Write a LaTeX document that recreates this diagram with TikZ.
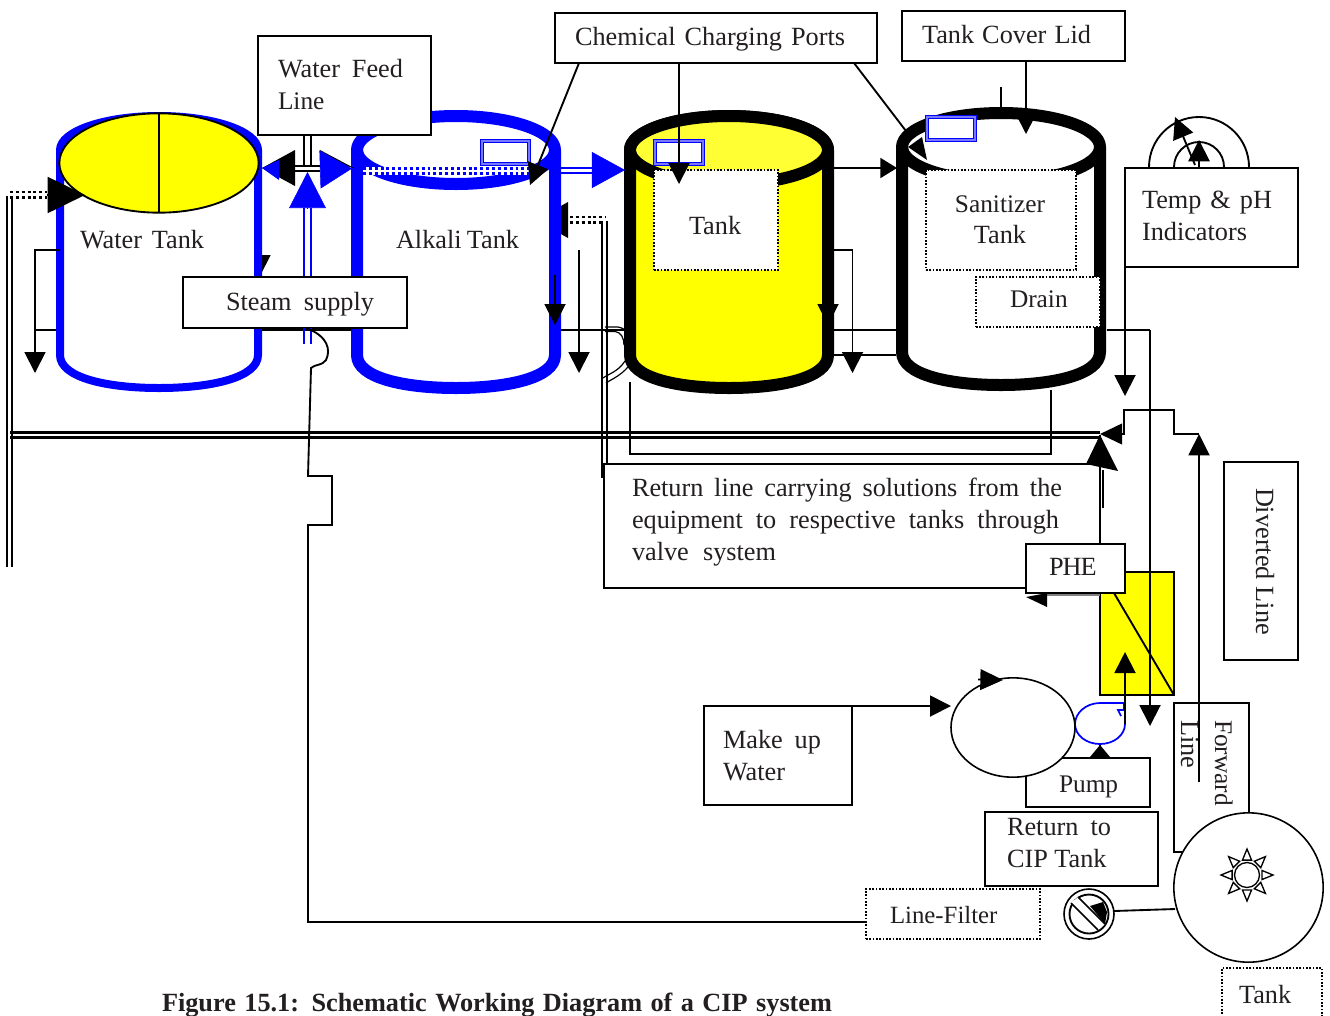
\documentclass[tikz,border=0pt]{standalone}
\usepackage{fontspec}
\setmainfont{Liberation Serif}
\usetikzlibrary{arrows.meta,fit,calc,shapes.geometric}
\definecolor{yel}{RGB}{255,255,0}
\definecolor{paleyel}{RGB}{255,255,51}
\definecolor{ink}{RGB}{35,31,32}
\definecolor{portmid}{RGB}{120,120,255}
\newdimen\pxu \pxu=0.75pt
\newcommand\wtxt[2]{\makebox[#1\pxu][s]{#2}}
\newcommand\bx[4][rbox]{\node[#1,fit={#3 #4}] (#2) {};}
\tikzset{
  x=0.75pt,y=-0.75pt,
  every node/.style={font=\fontsize{19.7}{24}\selectfont,text=ink},
  ln/.style={line width=1.4pt,draw=black},
  rbox/.style={draw=black,line width=1.45pt,fill=white,inner sep=0pt,outer sep=0pt},
  dbox/.style={draw=black,line width=0.95pt,dash pattern=on 1.2pt off 1.3pt,fill=white,inner sep=0pt,outer sep=0pt},
  txt/.style={inner sep=0pt,outer sep=0pt,anchor=base west},
  ctxt/.style={inner sep=0pt,outer sep=0pt,anchor=base},
  rtxt/.style={inner sep=0pt,outer sep=0pt,anchor=base west,rotate=-90},
  small/.style={font=\fontsize{19}{24}\selectfont},
  hd/.style={-{Triangle[length=15.75pt,width=15.75pt]}},
  port/.style={draw=blue,line width=1pt,double=portmid,double distance=1.4pt,fill=white,inner sep=0pt,outer sep=0pt},
  dots/.style={line width=2.2pt,dash pattern=on 2.2pt off 2.2pt},
  wall/.style={line width=9pt,line join=round},
}
\begin{document}
\begin{tikzpicture}
\useasboundingbox (0,0) rectangle (1330,1015);

% ---------- things partly hidden behind the tanks
\coordinate (wtHidS) at (260,240);
\coordinate (wtHidE) at (260,276);
\draw[ln,hd] (wtHidS) -- (wtHidE);
\coordinate (dotEnd) at (536,220);
\fill (568,202) -- (568,238) -- (dotEnd) -- cycle;

% ---------- water tank
\draw[blue,line width=6pt,fill=white,line join=round]
  (60,150) arc[start angle=180,end angle=360,x radius=99,y radius=34]
  -- (258,355) .. controls (258,378) and (210,388) .. (159,388)
  .. controls (108,388) and (60,378) .. (60,355) -- cycle;
\node[draw=black,line width=1.4pt,fill=yel,ellipse,inner sep=0pt,outer sep=0pt,
  minimum width=149.5pt,minimum height=74.5pt] (wtLid) at (159,163) {};
\draw[ln] (wtLid.north) -- (wtLid.south);

% ---------- alkali tank
\draw[blue,wall,fill=white]
  (357,150) arc[start angle=180,end angle=360,x radius=99,y radius=34]
  -- (555,355) .. controls (555,378) and (507,388) .. (456,388)
  .. controls (405,388) and (357,378) .. (357,355) -- cycle;
\draw[blue,wall] (357,150) arc[start angle=180,end angle=0,x radius=99,y radius=34];

% ---------- main yellow tank
\draw[black,wall,fill=yel]
  (630,150) arc[start angle=180,end angle=360,x radius=99,y radius=34]
  -- (828,355) .. controls (828,378) and (780,388) .. (729,388)
  .. controls (678,388) and (630,378) .. (630,355) -- cycle;
\draw[black,wall,fill=paleyel] (729,150) ellipse[x radius=99,y radius=34];

% ---------- sanitizer tank
\draw[black,wall,fill=white]
  (902,147) arc[start angle=180,end angle=360,x radius=99,y radius=34]
  -- (1100,352) .. controls (1100,375) and (1052,385) .. (1001,385)
  .. controls (950,385) and (902,375) .. (902,352) -- cycle;
\draw[black,wall] (902,147) arc[start angle=180,end angle=0,x radius=99,y radius=34];

% ---------- boxes
\bx{wfl}{(258,36)}{(431,135)}
\bx{ccp}{(555,13)}{(877,63)}
\bx{lid}{(902,11)}{(1125,61)}
\bx{temp}{(1125,168)}{(1298,267)}
\bx{dive}{(1224,462)}{(1298,660)}
\bx{fwd}{(1174,703)}{(1249,852)}
\bx{mkup}{(704,706)}{(852,805)}
\bx{cip}{(985,812)}{(1158,886)}
\bx[dbox]{tk3}{(654,170)}{(778,270)}
\bx[dbox]{san}{(926,170)}{(1076,270)}
\bx[dbox]{drn}{(976,277)}{(1100,327)}
\bx[dbox]{lft}{(866,889)}{(1040,939)}
\bx[dbox]{tksm}{(1222,968)}{(1322,1017)}

% ---------- ports
\bx[port]{p1}{(482,141)}{(529,164)}
\bx[port]{p2}{(655,141)}{(703,164)}
\bx[port]{p3}{(927,117)}{(975,140)}

% ---------- blue dotted band in alkali tank
\fill[white] (363,166.5) rectangle (530,175);
\coordinate (bd1a) at (363,168.3); \coordinate (bd1b) at (530,168.3);
\coordinate (bd2a) at (363,173.2); \coordinate (bd2b) at (530,173.2);
\draw[blue,dots] (bd1a) -- (bd1b);
\draw[blue,dots] (bd2a) -- (bd2b);

% ---------- left double line with dotted top
\coordinate (lA) at (7,196); \coordinate (lAb) at (7,567);
\coordinate (lB) at (12,196); \coordinate (lBb) at (12,567);
\draw[ln] (lA) -- (lAb);
\draw[ln] (lB) -- (lBb);
\coordinate (ld1) at (10,192); \coordinate (ld1e) at (47,192);
\coordinate (ld2) at (10,197.5); \coordinate (ld2e) at (47,197.5);
\draw[dots] (ld1) -- (ld1e);
\draw[dots] (ld2) -- (ld2e);
\coordinate (wtIn) at (85,195);
\coordinate (wtInS) at (47,195);
\draw[ln,-{Triangle[length=28pt,width=27pt]}] (wtInS) -- (wtIn);

% ---------- water tank drain
\coordinate (wdA) at (60,250); \coordinate (wdB) at (35,373); \coordinate (wdC) at (56,330);
\draw[ln,hd] (wdA) -| (wdB);
\draw[ln] (wdC) -- (wdC-|wdB);

% ---------- long horizontal line between tanks
\coordinate (h1a) at (262,330); \coordinate (h1b) at (351,330);
\draw[ln] (h1a) -- (h1b);
\coordinate (h2a) at (561,330); \coordinate (h2b) at (624,330);
\draw[ln] (h2a) -- (h2b);

% ---------- steam
\coordinate (s1b) at (304,344); \coordinate (s1t) at (304,208);
\coordinate (s2b) at (311,344); \coordinate (s2t) at (311,208);
\draw[blue,line width=1.1pt] (s1b) -- (s1t);
\draw[blue,line width=1.1pt] (s2b) -- (s2t);
\coordinate (stip) at (307.5,172); \coordinate (sbase) at (307.5,208);
\draw[blue,-{Triangle[length=27pt,width=27.5pt]}] (sbase) -- (stip);

% ---------- water feed
\coordinate (wf1) at (304,166); \coordinate (wf2) at (311,166);
\draw[ln] (wf1|-wfl.south) -- (wf1);
\draw[ln] (wf2|-wfl.south) -- (wf2);
\coordinate (wfL) at (295,168); \coordinate (wfT) at (262,168);
\fill (295,150) -- (295,186) -- (wfT) -- cycle;
\fill[blue] (279,160) -- (279,180) -- (wfT) -- cycle;
\fill (320,150) -- (320,160) -- (354,168) -- cycle;
\coordinate (wfR) at (320,169.5); \coordinate (wfRt) at (352,168.5);
\draw[blue,-{Triangle[length=24pt,width=28.5pt]}] (wfR) -- (wfRt);
\coordinate (fh1a) at (279,166); \coordinate (fh1b) at (320,166);
\coordinate (fh2a) at (279,171); \coordinate (fh2b) at (320,171);
\draw[line width=1.5pt] (fh1a) -- (fh1b);
\draw[line width=1.5pt] (fh2a) -- (fh2b);

% ---------- alkali to tank
\coordinate (a1) at (561,168); \coordinate (a1e) at (592,168);
\coordinate (a2) at (561,173); \coordinate (a2e) at (592,173);
\draw[blue,line width=1.1pt] (a1) -- (a1e);
\draw[blue,line width=1.1pt] (a2) -- (a2e);
\coordinate (aS) at (592,170); \coordinate (aT) at (625,170);
\draw[blue,-{Triangle[length=24.8pt,width=27pt]}] (aS) -- (aT);

% ---------- alkali return lines
\coordinate (rd1) at (570,217); \coordinate (rd1e) at (606,217);
\coordinate (rd2) at (570,222.5); \coordinate (rd2e) at (602,222.5);
\draw[dots] (rd1) -- (rd1e);
\draw[dots] (rd2) -- (rd2e);
\coordinate (v1t) at (602,221); \coordinate (v1b) at (602,478);
\coordinate (v2t) at (607,221); \coordinate (v2b) at (607,464);
\draw[ln] (v1t) -- (v1b);
\draw[ln] (v2t) -- (v2b);
\coordinate (adA) at (579,250); \coordinate (adB) at (579,373);
\draw[ln,hd] (adA) -- (adB);
\coordinate (awA) at (555,275); \coordinate (awB) at (555,325);
\draw[ln,hd] (awA) -- (awB);

% small curved pipe pieces at tank foot
\draw[line width=0.9pt] (605,327) -- (618,327) .. controls (623,328) and (626,330) .. (626,332);
\draw[line width=0.9pt] (605,331.5) -- (615,331.5) .. controls (621,332) and (624,338) .. (624,345);
\draw[line width=0.9pt] (603,378) .. controls (608,374) and (618,372) .. (625,361);
\draw[line width=0.9pt] (606,383) .. controls (612,379) and (620,376) .. (628,367);

% ---------- return loop under tank
\coordinate (lp1) at (630,382); \coordinate (lp2) at (1051,454); \coordinate (lp3) at (1051,390);
\draw[ln] (lp1) |- (lp2) -- (lp3);

% ---------- double main header
\coordinate (ma1) at (10,432.5); \coordinate (ma1e) at (1100,432.5);
\coordinate (ma2) at (10,437.5); \coordinate (ma2e) at (1100,437.5);
\draw[line width=1.7pt] (ma1) -- (ma1e);
\draw[line width=1.7pt] (ma2) -- (ma2e);

% ---------- return box (over lines)
\bx{ret}{(604,464)}{(1100,588)}
\bx{stm}{(183,277)}{(407,328)}

% blue stub below steam box
\coordinate (s3) at (304,328); \coordinate (s3e) at (304,344);
\coordinate (s4) at (311,328); \coordinate (s4e) at (311,344);
\draw[blue,line width=1.1pt] (s3) -- (s3e);
\draw[blue,line width=1.1pt] (s4) -- (s4e);

% ---------- chemical charging connectors
\coordinate (c1) at (530,185);
\draw[ln,-{Triangle[length=16pt,width=16pt]}] (579,63) coordinate (c1s) -- (c1);
\coordinate (c2) at (679,184);
\draw[ln,hd] (ccp.south-|c2) -- (c2);
\coordinate (c3a) at (854,63); \coordinate (c3b) at (906,131);
\draw[ln] (c3a) -- (c3b);
\fill (908,147) -- (922,137) -- (927,160) -- cycle;

% ---------- lid connectors
\coordinate (l1) at (1026,134);
\draw[ln,-{Triangle[length=13pt,width=13pt]}] (lid.south-|l1) -- (l1);
\coordinate (l2a) at (1001,87); \coordinate (l2b) at (1001,108);
\draw[ln] (l2a) -- (l2b);

% ---------- tank to sanitizer
\coordinate (tsA) at (833,168); \coordinate (tsB) at (897,168);
\draw[ln,-{Triangle[length=12.5pt,width=15pt]}] (tsA) -- (tsB);
\coordinate (t1a) at (833,250); \coordinate (t1b) at (852.5,373);
\draw[ln,hd] (t1a) -| (t1b);
\coordinate (t2a) at (833,330); \coordinate (t2b) at (896,330);
\draw[ln] (t2a) -- (t2b);
\coordinate (t3a) at (833,355); \coordinate (t3b) at (896,355);
\draw[ln] (t3a) -- (t3b);
\coordinate (twA) at (828,275); \coordinate (twB) at (828,325);
\draw[ln,hd] (twA) -- (twB);

% ---------- sanitizer drain line
\coordinate (sdA) at (1107,330); \coordinate (sdB) at (1150,726);
\draw[ln] (sdA) -| (sdA-|sdB);

% ---------- indicators
\coordinate (ga) at (1199,167);
\draw[ln] (1149,167) arc[start angle=180,end angle=360,radius=50];
\draw[ln] (1174,167) arc[start angle=180,end angle=360,radius=25];
\coordinate (ga1) at (1199,140);
\draw[ln,-{Triangle[length=16pt,width=16pt]}] (temp.north-|ga1) -- (ga1);
\coordinate (ga2) at (1175,117); \coordinate (ga2s) at (1195,165);
\draw[ln,-{Triangle[length=16pt,width=16pt]}] (ga2s) -- (ga2);
\coordinate (tdA) at (1125,396);
\draw[ln,hd] (temp.south-|tdA) -- (tdA);

% ---------- valve arrows
\coordinate (vtip) at (1100,435);
\fill (vtip) -- (1086,464) -- (1118,471) -- cycle;
\draw[ln] (vtip) -- (1100,544) coordinate (vs);
\coordinate (vs2) at (1103,470); \coordinate (vs2e) at (1103,508);
\draw[ln] (vs2) -- (vs2e);
\coordinate (dv1) at (1122,434); 
\draw[ln,-{Triangle[length=16.5pt,width=15.5pt]}] (dv1) -- (1100,434);
\coordinate (dv2) at (1124,410); \coordinate (dv3) at (1174,434); \coordinate (dv4) at (1199,434);
\draw[ln] (dv1) -- (1124,434) -- (dv2) -- (1174,410) -- (dv3) -- (dv4);
\coordinate (fwS) at (1199,782);
\draw[ln,-{Triangle[length=16pt,width=15.75pt]}] (fwS) -- (dv4);

% ---------- PHE
\node[draw=black,line width=1.2pt,fill=yel,inner sep=0pt,outer sep=0pt,fit={(1100,572) (1174,695)}] (phe) {};
\coordinate (ph1) at (1114,593);
\draw[ln] (ph1) -- (phe.south east);
\coordinate (pl1) at (1047,595); \coordinate (pl2) at (1100,595);
\draw[line width=1.3pt,gray] (pl1) -- (pl2);
\fill (1026,597) -- (1047,593) -- (1047,607) -- cycle;
\coordinate (sv) at (1150,330);
\draw[ln,hd] (sv) -- (sdB);
\bx{phel}{(1026,544)}{(1125,593)}

% ---------- pump, motor
\draw[blue,line width=1.3pt] (1121,716) -- (1118,710) -- (1124,710) -- (1124,703) -- (1100,703)
  .. controls (1086,703) and (1075,713) .. (1075,724)
  .. controls (1075,735) and (1086,744) .. (1100,744)
  .. controls (1114,744) and (1125,735) .. (1125,724) -- (1125,714);
\coordinate (up1) at (1125,724); \coordinate (up2) at (1125,652);
\draw[ln,hd] (up1) -- (up2);
\bx{pmp}{(1026,758)}{(1150,807)}
\coordinate (pu1) at (1100,745);
\draw[ln] (pu1|-pmp.north) -- (pu1);
\fill (1090,757) -- (1110,757) -- (pu1) -- cycle;
\node[draw=black,line width=1.2pt,fill=white,ellipse,inner sep=0pt,outer sep=0pt,
  minimum width=93pt,minimum height=74.5pt] (bal) at (1013,727.5) {};
\draw[ln,hd] (mkup.north east) -- (mkup.north east-|bal.west);
\coordinate (ba1) at (978,679.5); \coordinate (ba2) at (1003,680);
\draw[ln,-{Triangle[length=17pt,width=15.5pt]}] (ba1) -- (ba2);

% ---------- big bottom circle and sun
\node[draw=black,line width=1.2pt,fill=white,circle,inner sep=0pt,outer sep=0pt,minimum size=112pt] (drum) at (1248.5,887.5) {};
\begin{scope}[shift={(1247,875)}]
  \draw[line width=1pt] (0,0) circle[radius=12.5];
  \foreach \a in {0,45,...,315}
    \draw[line width=1pt,fill=white,line join=miter] (\a:26) -- (\a+17:15.6) -- (\a-17:15.6) -- cycle;
\end{scope}

% ---------- valve icon
\node[draw=black,line width=1.2pt,fill=white,circle,inner sep=0pt,outer sep=0pt,minimum size=37.5pt] (vlv) at (1089,914) {};
\draw[ln] (vlv.center) circle[radius=19.5];
\fill (1090,906) -- (1103,902) -- (1107,912) -- (1105,924) -- cycle;
\fill[white] (1071,903) -- (1078,897) -- (1105,924) -- (1098,930) -- cycle;
\draw[line width=1.1pt] (1071,903) -- (1098,930);
\draw[line width=1.1pt] (1078,897) -- (1105,924);
\coordinate (vl2) at (1114,911);
\coordinate (vl3) at (1175,909);
\draw[ln] (vl2) -- (vl3);

% ---------- filter line
\coordinate (fp1) at (308,922);
\coordinate (fp2) at (308,525);
\coordinate (fp3) at (332,525);
\coordinate (fp4) at (332,476);
\coordinate (fp5) at (308,476);
\coordinate (fp6) at (311,368);
\coordinate (fp7) at (306,328);
\draw[ln] (lft.west|-fp1) -- (fp1) -- (fp2) -- (fp3) -- (fp4) -- (fp5) -- (fp6)
  .. controls (315,364) and (322,366) .. (326,360)
  .. controls (331,350) and (328,336) .. (fp7);

% ---------- texts
\node[txt] (tWFa) at (278,77) {\wtxt{125}{Water Feed}};
\node[txt,small] (tWFb) at (278,109) {Line};
\node[txt] (tCC) at (575,45) {\wtxt{270}{Chemical Charging Ports}};
\node[txt] (tTL) at (922,43) {\wtxt{169}{Tank Cover Lid}};
\node[txt] (tWT) at (80,248) {\wtxt{124}{Water Tank}};
\node[txt] (tAT) at (396,248) {\wtxt{123}{Alkali Tank}};
\node[txt] (tT3) at (689,234) {Tank};
\node[ctxt,small] (tSa) at (1000,212) {Sanitizer};
\node[ctxt] (tSb) at (1000,243) {Tank};
\node[txt,small] (tDr) at (1010,307) {Drain};
\node[txt] (tTa) at (1142,208) {\wtxt{130}{Temp \& pH}};
\node[txt] (tTb) at (1142,240) {\wtxt{107}{Indicators}};
\node[txt] (tSt) at (226,310) {\wtxt{148}{Steam supply}};
\node[txt] (tRa) at (632,496) {\wtxt{430}{Return line carrying solutions from the}};
\node[txt] (tRb) at (632,528) {\wtxt{427}{equipment to respective tanks through}};
\node[txt] (tRc) at (632,560) {\wtxt{144}{valve system}};
\node[txt] (tPH) at (1049,575) {\addfontfeature{LetterSpace=-4}PHE};
\node[rtxt] (tDL) at (1256,488) {\wtxt{147}{Diverted Line}};
\node[rtxt,small] (tFa) at (1215,720) {Forward};
\node[rtxt] (tFb) at (1181,720) {Line};
\node[txt] (tMa) at (723,748) {\wtxt{98}{Make up}};
\node[txt] (tMb) at (723,780) {Water};
\node[txt,small] (tPu) at (1059,792) {Pump};
\node[txt] (tCa) at (1007,835) {\wtxt{104}{Return to}};
\node[txt] (tCb) at (1007,867) {CIP Tank};
\node[txt,font=\fontsize{18.6}{24}\selectfont] (tLF) at (890,923) {Line-Filter};
\node[txt] (tTs) at (1239,1003) {Tank};
\node[txt,font=\fontsize{19.7}{24}\selectfont\bfseries] (tFig) at (162,1011) {\wtxt{670}{Figure 15.1: Schematic Working Diagram of a CIP system}};
\end{tikzpicture}
\end{document}
